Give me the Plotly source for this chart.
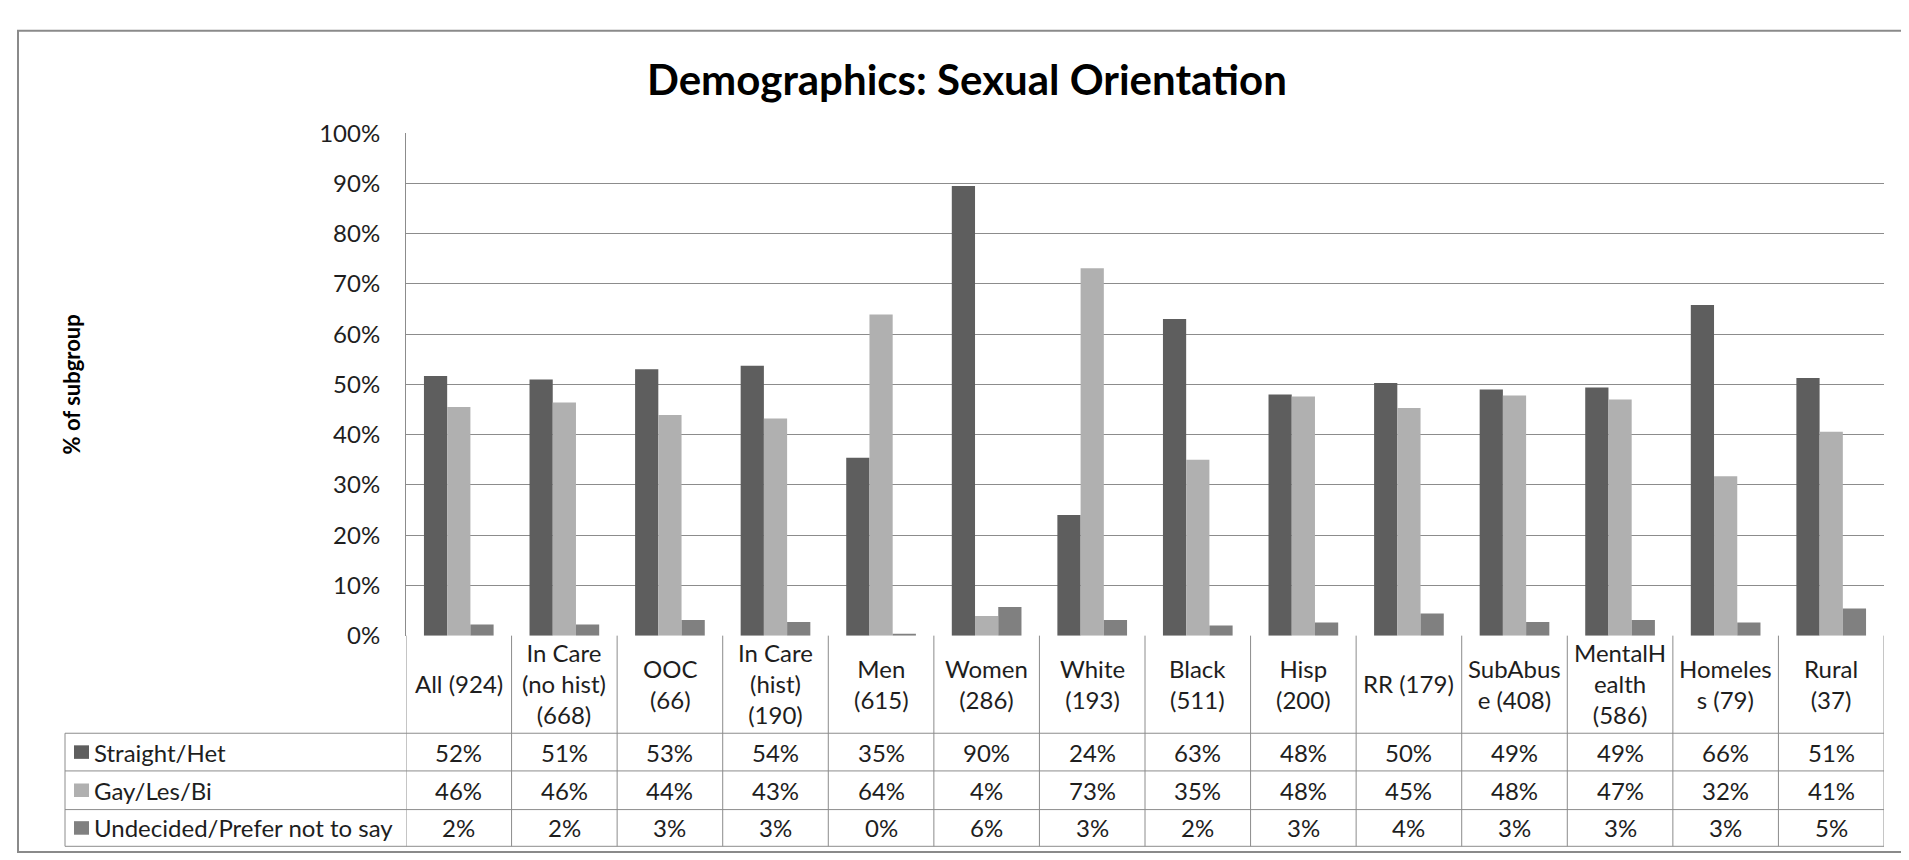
import plotly.graph_objects as go

# ---------------- data ----------------
categories = ["All (924)", "In Care (no hist) (668)", "OOC (66)", "In Care (hist) (190)",
              "Men (615)", "Women (286)", "White (193)", "Black (511)", "Hisp (200)",
              "RR (179)", "SubAbuse (408)", "MentalHealth (586)", "Homeless (79)", "Rural (37)"]
category_labels = ["All (924)", "In Care<br>(no hist)<br>(668)", "OOC<br>(66)", "In Care<br>(hist)<br>(190)",
                   "Men<br>(615)", "Women<br>(286)", "White<br>(193)", "Black<br>(511)", "Hisp<br>(200)",
                   "RR (179)", "SubAbus<br>e (408)", "MentalH<br>ealth<br>(586)", "Homeles<br>s (79)", "Rural<br>(37)"]
series_names = ["Straight/Het", "Gay/Les/Bi", "Undecided/Prefer not to say"]
straight = [51.7, 51.0, 53.0, 53.7, 35.4, 89.5, 24.0, 63.0, 48.0, 50.3, 49.0, 49.4, 65.8, 51.3]
gay = [45.5, 46.4, 43.9, 43.2, 63.9, 3.9, 73.1, 35.0, 47.6, 45.3, 47.8, 47.0, 31.7, 40.6]
undecided = [2.2, 2.2, 3.1, 2.7, 0.4, 5.7, 3.1, 2.0, 2.6, 4.4, 2.7, 3.1, 2.6, 5.4]
y_ticks = [0, 10, 20, 30, 40, 50, 60, 70, 80, 90, 100]
title_text = "Demographics: Sexual Orientation"
y_title = "% of subgroup"

# ---------------- styling ----------------
W, H = 1909, 860
colors = ["#5e5e5e", "#b0b0b0", "#808080"]
FONT = "Lato, 'Noto Sans', sans-serif"
TXT = "#1e1e1e"
LINE = "#8c8c8c"
FS = 24

def px(xp):
    return xp / W

def py(yp):
    return (H - yp) / H

plot_left, plot_right = 398, 1876
plot_top, plot_bottom = 113, 633
table_left = 57
row_lines = [734, 773, 813, 851]
header_center = 683
row_centers = [(row_lines[i] + row_lines[i + 1]) / 2 for i in range(3)]

series = [straight, gay, undecided]
fig = go.Figure()
for name, vals, col in zip(series_names, series, colors):
    fig.add_trace(go.Bar(
        x=categories, y=[v / 100 for v in vals], name=name,
        marker=dict(color=col, line=dict(width=0)),
        hoverinfo="x+y+name",
    ))

shapes = []
annotations = []

# outer chart border
shapes.append(dict(type="rect", xref="paper", yref="paper",
                   x0=px(10), x1=px(1905), y0=py(857), y1=py(7),
                   line=dict(color="#8a8a8a", width=2), fillcolor="rgba(0,0,0,0)", layer="below"))

# table horizontal lines
for yl in row_lines:
    shapes.append(dict(type="line", xref="paper", yref="paper",
                       x0=px(table_left), x1=px(plot_right), y0=py(yl), y1=py(yl),
                       line=dict(color=LINE, width=1)))
# table left edge
shapes.append(dict(type="line", xref="paper", yref="paper",
                   x0=px(table_left), x1=px(table_left), y0=py(row_lines[0]), y1=py(row_lines[-1]),
                   line=dict(color=LINE, width=1)))
# column dividers (category boundaries)
for k in range(len(categories) + 1):
    shapes.append(dict(type="line", xref="x", yref="paper",
                       x0=k - 0.5, x1=k - 0.5, y0=py(row_lines[-1]), y1=py(plot_bottom),
                       line=dict(color=LINE, width=1)))

# category header labels
for cat, lab in zip(categories, category_labels):
    annotations.append(dict(xref="x", yref="paper", x=cat, y=py(header_center),
                            text=lab, showarrow=False, yanchor="middle", xanchor="center",
                            font=dict(family=FONT, size=FS, color=TXT)))

# rows: legend key, label, values
for r, (name, vals, col) in enumerate(zip(series_names, series, colors)):
    yc = row_centers[r]
    shapes.append(dict(type="rect", xref="paper", yref="paper",
                       x0=px(66), x1=px(81), y0=py(yc + 7), y1=py(yc - 7),
                       line=dict(width=0), fillcolor=col))
    annotations.append(dict(xref="paper", yref="paper", x=px(84), y=py(yc),
                            text=name, showarrow=False, xanchor="left", yanchor="middle",
                            font=dict(family=FONT, size=FS, color=TXT)))
    for cat, v in zip(categories, vals):
        annotations.append(dict(xref="x", yref="paper", x=cat, y=py(yc),
                                text=f"{round(v)}%", showarrow=False,
                                xanchor="center", yanchor="middle",
                                font=dict(family=FONT, size=FS, color=TXT)))

# title
annotations.append(dict(xref="paper", yref="paper", x=px(959), y=py(57),
                        text=f"<b>{title_text}</b>", showarrow=False,
                        xanchor="center", yanchor="middle",
                        font=dict(family=FONT, size=42, color="#000000")))
# y-axis title
annotations.append(dict(xref="paper", yref="paper", x=px(63), y=py(373),
                        text=f"<b>{y_title}</b>", showarrow=False, textangle=-90,
                        xanchor="center", yanchor="middle",
                        font=dict(family=FONT, size=22, color="#000000")))

fig.update_layout(
    width=W, height=H,
    margin=dict(l=0, r=0, t=0, b=0),
    paper_bgcolor="white", plot_bgcolor="white",
    barmode="group", bargap=0.34, bargroupgap=0,
    showlegend=False,
    font=dict(family=FONT, color=TXT),
    xaxis=dict(domain=[px(plot_left), px(plot_right)], type="category",
               categoryorder="array", categoryarray=categories,
               range=[-0.5, len(categories) - 0.5],
               showticklabels=False, showgrid=False, zeroline=False,
               showline=False, fixedrange=True),
    yaxis=dict(domain=[py(plot_bottom), py(plot_top)], range=[0, 1],
               tickvals=[t / 100 for t in y_ticks], ticktext=[f"{t}%" for t in y_ticks],
               showgrid=True, gridcolor=LINE, gridwidth=1,
               zeroline=False, showline=True, linecolor=LINE, linewidth=1,
               ticks="outside", ticklen=20, tickcolor="rgba(0,0,0,0)",
               tickfont=dict(family=FONT, size=FS, color=TXT), fixedrange=True),
    shapes=shapes, annotations=annotations,
)

fig.write_html("out.html")
